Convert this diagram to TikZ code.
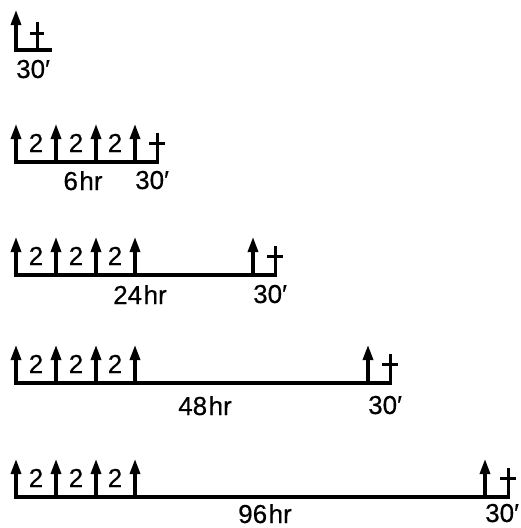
\documentclass[tikz,border=0pt]{standalone}
\usepackage{fontspec}
\setmainfont{Liberation Sans}[BoldFont={Liberation Sans}, BoldFeatures={FakeBold=0.5}]
\usetikzlibrary{arrows.meta}

\begin{document}
\begin{tikzpicture}[
    x=1pt, y=-1pt,
    font=\fontsize{26}{26}\selectfont\bfseries,
    axis/.style={line width=3.2pt, line cap=rect},
    dose/.style={-{Triangle[length=15pt, width=10pt]}, line width=3.2pt},
    killmark/.style={line width=3pt},
    lbl/.style={inner sep=0pt, anchor=base},
]
\useasboundingbox (0,0) rectangle (520,528);

% one dose, killed after 30 min
\coordinate (s0) at (16,50);
\coordinate (k0) at (37,50);
\coordinate (e0) at (50,50);
\draw[axis] (s0) -- (e0);
\draw[dose] (s0) -- ++(0,-40);
\draw[killmark] (k0) -- ++(0,-28) (k0) ++(-7,-17) -- ++(14,0);
\node[lbl, anchor=base west] (t0) at (16,78) {30′};

% three doses every 2 hr, then a fourth dose after a delay
\foreach \y/\xl/\xc/\hr/\xh/\dy [count=\i] in {%
    162/135/157/6/83/27,
    275/253/275/24/140/28,
    383/368/390/48/205/31,
    497/485/508/96/265/25%
}{
    \coordinate (s\i) at (16,\y);
    \coordinate (l\i) at (\xl,\y);
    \coordinate (k\i) at (\xc,\y);
    \draw[axis] (s\i) -- (k\i);
    \foreach \x in {16,56,96,135}
        \draw[dose] (\x,\y) -- ++(0,-38);
    \foreach \x in {36,76,115}
        \node[lbl] at (\x,\y-10) {2};
    \ifnum\xl>135
        \draw[dose] (l\i) -- ++(0,-38);
    \fi
    \draw[killmark] (k\i) -- ++(0,-29) (k\i) ++(-8,-19) -- ++(16,0);
    \node[lbl, anchor=base west] (t\i) at (\xl,\y+\dy) {30′};
    \node[lbl] (h\i) at (\xh,\y+\dy+1) {\hr\hspace{1.5pt}hr};
}

\end{tikzpicture}
\end{document}
